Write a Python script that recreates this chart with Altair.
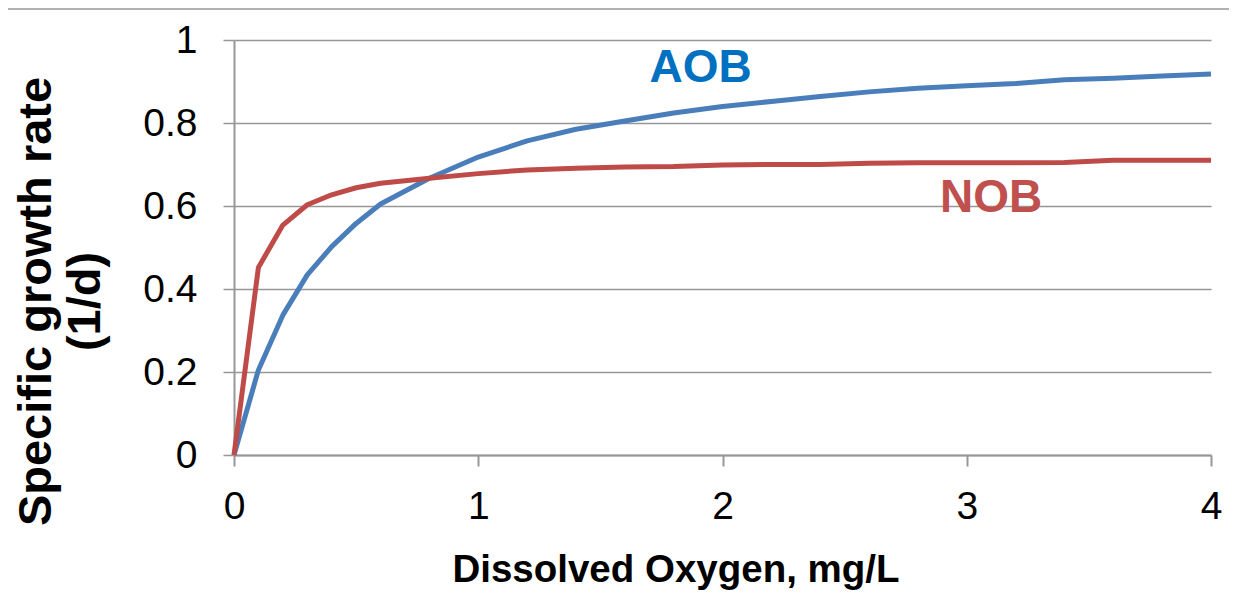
import altair as alt
import pandas as pd

# Dissolved oxygen (mg/L) and specific growth rates (1/d)
do_mgL = [0, 0.1, 0.2, 0.3, 0.4, 0.5, 0.6, 0.8, 1.0, 1.2, 1.4, 1.6, 1.8, 2.0,
          2.2, 2.4, 2.6, 2.8, 3.0, 3.2, 3.4, 3.6, 3.8, 4.0]
aob_rate = [0, 0.205, 0.337, 0.434, 0.502, 0.558, 0.605, 0.667, 0.718, 0.757,
            0.785, 0.805, 0.824, 0.840, 0.852, 0.864, 0.875, 0.884, 0.890,
            0.895, 0.904, 0.908, 0.913, 0.918]
nob_rate = [0, 0.452, 0.554, 0.603, 0.627, 0.644, 0.655, 0.667, 0.678, 0.687,
            0.691, 0.694, 0.695, 0.699, 0.700, 0.700, 0.703, 0.704, 0.704,
            0.704, 0.705, 0.710, 0.710, 0.710]

# in-chart series labels
series_names = ["AOB", "NOB"]
label_x = [1.91, 3.10]
label_y = [0.90, 0.586]

x_ticks = [0, 1, 2, 3, 4]
y_ticks = [0, 0.2, 0.4, 0.6, 0.8, 1.0]

GRAY = "#979797"
BLUE_LINE = "#4A7EBB"
RED_LINE = "#BE4B48"
BLUE_TEXT = "#0070C0"
RED_TEXT = "#C0504D"
FONT = "Liberation Sans"

aob_df = pd.DataFrame({"x": do_mgL, "y": aob_rate})
nob_df = pd.DataFrame({"x": do_mgL, "y": nob_rate})
lab_df = pd.DataFrame({"name": series_names, "x": label_x, "y": label_y})

x_enc = alt.X(
    "x:Q",
    scale=alt.Scale(domain=[0, 4], nice=False, zero=False),
    axis=alt.Axis(
        values=x_ticks, format="~g", grid=False,
        domainColor=GRAY, domainWidth=2,
        tickColor=GRAY, tickWidth=2, tickSize=11,
        labelFont=FONT, labelFontSize=39, labelColor="black",
        labelPadding=21, labelFlush=False,
        title="Dissolved Oxygen, mg/L",
        titleFont=FONT,
        titleFontSize=38.5, titleFontWeight="bold", titleColor="black",
        titleX=441.5, titleY=126.7, titleAlign="center",
        titleBaseline="alphabetic",
    ),
)
y_enc = alt.Y(
    "y:Q",
    scale=alt.Scale(domain=[0, 1], nice=False),
    axis=alt.Axis(
        values=y_ticks, format="~g", grid=True,
        gridColor=GRAY, gridWidth=1.5,
        domainColor=GRAY, domainWidth=2,
        tickColor=GRAY, tickWidth=1.5, tickSize=11,
        labelFont=FONT, labelFontSize=39, labelColor="black",
        labelPadding=26,
        title=["Specific growth rate", "(1/d)"],
        titleFont=FONT, titleFontSize=47, titleFontWeight="bold",
        titleColor="black", titleAngle=270, titleAlign="center",
        titleBaseline="top", titleX=-221, titleY=261, titleLineHeight=49,
    ),
)

aob_line = alt.Chart(aob_df).mark_line(
    color=BLUE_LINE, strokeWidth=5, strokeJoin="round"
).encode(x=x_enc, y=y_enc)

nob_line = alt.Chart(nob_df).mark_line(
    color=RED_LINE, strokeWidth=5, strokeJoin="round"
).encode(x=x_enc, y=y_enc)

labels = alt.Chart(lab_df).mark_text(
    font=FONT, fontSize=46, fontWeight="bold", align="center",
    baseline="alphabetic"
).encode(
    x=x_enc, y=y_enc,
    text="name:N",
    color=alt.Color("name:N", scale=alt.Scale(domain=series_names,
                                               range=[BLUE_TEXT, RED_TEXT]),
                    legend=None),
)

top_border = alt.Chart(pd.DataFrame({"a": [0]})).mark_rule(
    color=GRAY, strokeWidth=1.5
).encode(x=alt.value(-226), x2=alt.value(995), y=alt.value(-31))

chart = alt.layer(top_border, aob_line, nob_line, labels).properties(
    width=977, height=415,
    autosize=alt.AutoSizeParams(type="none"),
    padding={"left": 226, "top": 32, "right": 18, "bottom": 145},
    background="white",
).configure_view(strokeWidth=0)

chart.save("out.html", embed_options={"renderer": "svg", "actions": False})
